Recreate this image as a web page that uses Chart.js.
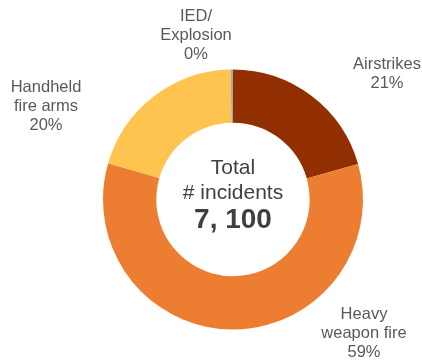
<!DOCTYPE html>
<html lang="en">
<head>
    <meta charset="UTF-8">
    <title>Incidents by type</title>
    <style>
        body {
          margin: 0;
          padding: 0;
          background: #fff;
        }
        #chart {
          display: block;
        }
    </style>
</head>
<body>
<canvas id="chart" width="422" height="362"></canvas>

<script src="https://cdn.jsdelivr.net/npm/chart.js"></script>
<script>
    // Data (share of incidents, %)
    const categories = ['Airstrikes', 'Heavy\nweapon fire', 'Handheld\nfire arms', 'IED/\nExplosion'];
    const shares = [20.6, 58.9, 20.2, 0.3];
    const totalLabel = '7, 100';
    const colors = ['#922f00', '#ed7d31', '#ffc350', '#a5a5a5'];

    // where each outside label sits (centre of text block, px)
    const labelSpots = [
      [387, 74],
      [364, 333],
      [46, 106],
      [196, 35]
    ];

    const FONT = '"Liberation Sans", Arial, sans-serif';

    // draws outside labels and the total in the hole
    const textPlugin = {
      id: 'textPlugin',
      afterDraw(chart) {
        const c = chart.ctx;
        const arc = chart.getDatasetMeta(0).data[0];
        c.save();
        c.textAlign = 'center';
        c.textBaseline = 'middle';

        // category labels
        c.fillStyle = '#595959';
        c.font = '16.5px ' + FONT;
        categories.forEach((cat, i) => {
          const lines = cat.split('\n');
          lines.push(Math.round(shares[i]) + '%');
          const lh = 19;
          const [x, y] = labelSpots[i];
          const top = y - (lines.length - 1) * lh / 2;
          lines.forEach((ln, j) => c.fillText(ln, x, top + j * lh));
        });

        // centre text
        c.fillStyle = '#404040';
        c.font = '21px ' + FONT;
        c.fillText('Total', arc.x, arc.y - 31);
        c.fillText('# incidents', arc.x, arc.y - 6);
        c.font = 'bold 28px ' + FONT;
        c.fillText(totalLabel, arc.x, arc.y + 21);
        c.restore();
      }
    };

    const ctx = document.getElementById('chart').getContext('2d');
    new Chart(ctx, {
      type: 'doughnut',
      data: {
        labels: categories,
        datasets: [{
          data: shares,
          backgroundColor: colors,
          borderWidth: 0,
          hoverOffset: 0,
          offset: 0
        }]
      },
      options: {
        responsive: false,
        animation: false,
        cutout: '59%',
        layout: {
          padding: { top: 69, bottom: 32, left: 103, right: 59 }
        },
        plugins: {
          legend: { display: false },
          tooltip: { enabled: false }
        }
      },
      plugins: [textPlugin]
    });
</script>
</body>
</html>
